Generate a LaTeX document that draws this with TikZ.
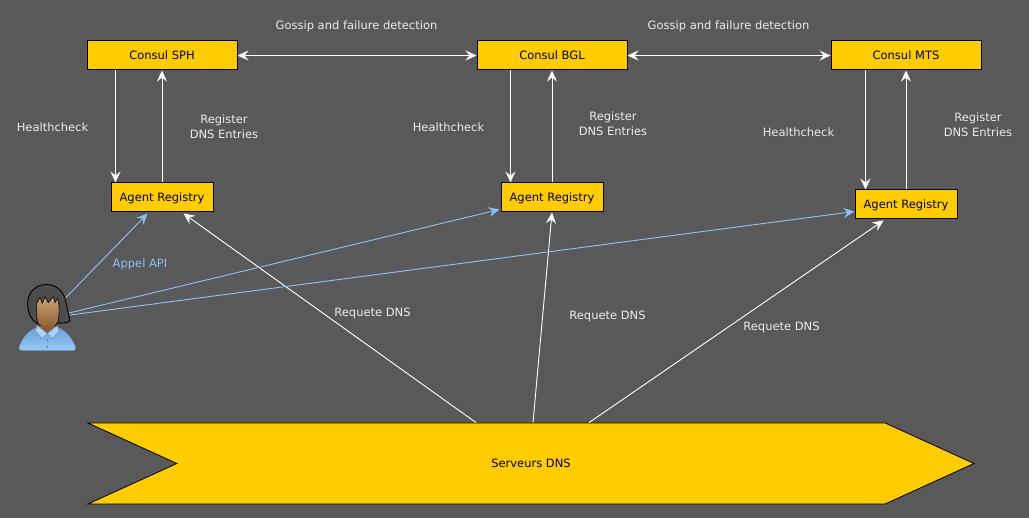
\documentclass[tikz,border=0pt]{standalone}
\usepackage{fontspec}
\setmainfont{DejaVu Sans}
\usepackage{xcolor}
\usetikzlibrary{calc,arrows.meta,shapes.symbols}
\definecolor{bggray}{HTML}{595959}
\definecolor{boxgold}{HTML}{FFCC00}
\definecolor{apiblue}{HTML}{8CC2F5}
\definecolor{shirtblue}{HTML}{7DBBF7}
\definecolor{skinlight}{HTML}{C9A273}
\definecolor{skindark}{HTML}{8F5F32}

\begin{document}
\begin{tikzpicture}[x=1pt,y=-1pt,
      box/.style={draw=black,fill=boxgold,line width=1pt,inner sep=0pt,
                  minimum height=29pt,text height=8pt,text depth=0pt,
                  font=\fontsize{11.5}{12}\selectfont},
      consul/.style={box,minimum width=150pt},
      agent/.style={box,minimum width=102pt},
      lbl/.style={text=white!92!black,align=center,inner sep=0pt,
                  font=\fontsize{11.5}{15}\selectfont},
      wire/.style={draw=white,line width=0.9pt,-{Stealth[length=11pt,width=10pt,inset=4pt]}},
      wirebi/.style={draw=white,line width=0.9pt,
                  {Stealth[length=11pt,width=10pt,inset=4pt]}-{Stealth[length=11pt,width=10pt,inset=4pt]}},
      api/.style={draw=apiblue,line width=0.9pt,-{Stealth[length=11pt,width=10pt,inset=4pt]}}]
    % background
    \fill[bggray] (0,0) rectangle (1029,518);
    \useasboundingbox (0,0) rectangle (1029,518);
    % consul servers
    \node[consul] (consulsph) at (162,55.5) {Consul SPH};
    \node[consul] (consulbgl) at (552,55.5) {Consul BGL};
    \node[consul] (consulmts) at (906,55.5) {Consul MTS};
    % agents
    \node[agent] (agentsph) at (162,197.5) {Agent Registry};
    \node[agent] (agentbgl) at (552,197.5) {Agent Registry};
    \node[agent] (agentmts) at (906,204.5) {Agent Registry};
    % dns servers
    \node[draw=black,fill=boxgold,line width=0.8pt,inner sep=0pt,shape=signal,
          signal from=west,signal to=east,signal pointer angle=49,
          minimum width=886pt,minimum height=81pt,text height=8pt,text depth=0pt,
          font=\fontsize{11.5}{12}\selectfont] (dns) at (531,463.5) {Serveurs DNS};
    % gossip
    \draw[wirebi] (consulsph) -- (consulbgl);
    \draw[wirebi] (consulbgl) -- (consulmts);
    \node[lbl] (gossipa) at (356.5,26) {Gossip and failure detection};
    \node[lbl] (gossipb) at (728.5,26) {Gossip and failure detection};
    % healthcheck / register
    \draw[wire] ($(consulsph.south west)+(29,0)$) -- ($(agentsph.north west)+(5,0)$);
    \draw[wire] (agentsph) -- (consulsph);
    \draw[wire] ($(consulbgl.south west)+(34,0)$) -- ($(agentbgl.north west)+(10,0)$);
    \draw[wire] (agentbgl) -- (consulbgl);
    \draw[wire] ($(consulmts.south west)+(35,0)$) -- ($(agentmts.north west)+(11,0)$);
    \draw[wire] (agentmts) -- (consulmts);
    \node[lbl] (checksph) at (52.5,127.5) {Healthcheck};
    \node[lbl] (checkbgl) at (448.5,127.5) {Healthcheck};
    \node[lbl] (checkmts) at (798.5,132.5) {Healthcheck};
    \node[lbl] (regsph) at (224,126.5) {Register\\DNS Entries};
    \node[lbl] (regbgl) at (613,123.5) {Register\\DNS Entries};
    \node[lbl] (regmts) at (978,124.5) {Register\\DNS Entries};
    % dns requests
    \draw[wire] ($(dns.north)+(-55,0)$) -- ($(agentsph.south east)+(-30,1)$);
    \draw[wire] ($(dns.north)+(2,0)$) -- (agentbgl.south);
    \draw[wire] ($(dns.north)+(58,0)$) -- ($(agentmts.south west)+(29,1)$);
    \node[lbl] (reqsph) at (372.5,313) {Requete DNS};
    \node[lbl] (reqbgl) at (607.5,316) {Requete DNS};
    \node[lbl] (reqmts) at (781.5,327.5) {Requete DNS};
    % user
    \path[draw=black,fill=bggray!85!black,line width=0.9pt]
          (47,284.5) .. controls (35,284.5) and (27,293) .. (27.7,305)
          .. controls (28,313) and (31,320) .. (37,323.5)
          -- (57,323) .. controls (62,323.5) and (67,323) .. (70,321)
          .. controls (68.5,313) and (66.5,305) .. (65,298)
          .. controls (62,290) and (55,284.5) .. (47,284.5) -- cycle;
    \path[top color=shirtblue!85!black,bottom color=shirtblue!80!white,
          draw=shirtblue!85!black,line width=0.5pt]
          (19.3,347) .. controls (22,338) and (30,329) .. (39,327)
          -- (55,327) .. controls (65,329) and (72,338) .. (75.5,347)
          .. controls (76,350) and (74.5,350.5) .. (73,350.5) -- (22,350.5)
          .. controls (20,350.5) and (19,349.5) .. (19.3,347) -- cycle;
    \path[top color=skinlight,bottom color=skindark,draw=black,line width=0.6pt]
          (36.7,303.3) -- (40,297.3) -- (42.3,303.3) -- (45,296.7) -- (48.3,302.7)
          -- (53.3,296.7) -- (55,302.7) -- (57.7,298.3)
          .. controls (59.5,303) and (59.5,316) .. (58,322)
          .. controls (56,326) and (52,328) .. (47.5,328)
          .. controls (43,328) and (39,326) .. (37.5,322)
          .. controls (36.5,316) and (36.5,309) .. (36.7,303.3) -- cycle;
    \fill[skindark] (39,326) -- (47.3,334) -- (56,326) -- cycle;
    \path[fill=shirtblue!65!white,draw=shirtblue!75!black,line width=0.4pt]
          (37,325.5) -- (47.3,333.5) -- (42,338.5) -- (35.5,331) -- cycle;
    \path[fill=shirtblue!65!white,draw=shirtblue!75!black,line width=0.4pt]
          (57.5,325.5) -- (47.3,333.5) -- (52.5,338.5) -- (59,331) -- cycle;
    \fill[shirtblue!65!black] (47.3,340) circle (0.9);
    \fill[shirtblue!65!black] (47.3,346.7) circle (0.9);
    \coordinate (userapi) at (65.5,298);
    \coordinate (userbgl) at (69,313);
    \coordinate (usermts) at (70,315);
    % api calls
    \draw[api] (userapi) -- ($(agentsph.south west)+(37,1)$);
    \draw[api] (userbgl) -- ($(agentbgl.south west)+(-1,-3)$);
    \draw[api] (usermts) -- ($(agentmts.south west)+(0,-8)$);
    \node[lbl,text=apiblue] (apilabel) at (140,264) {Appel API};
  \end{tikzpicture}
\end{document}
